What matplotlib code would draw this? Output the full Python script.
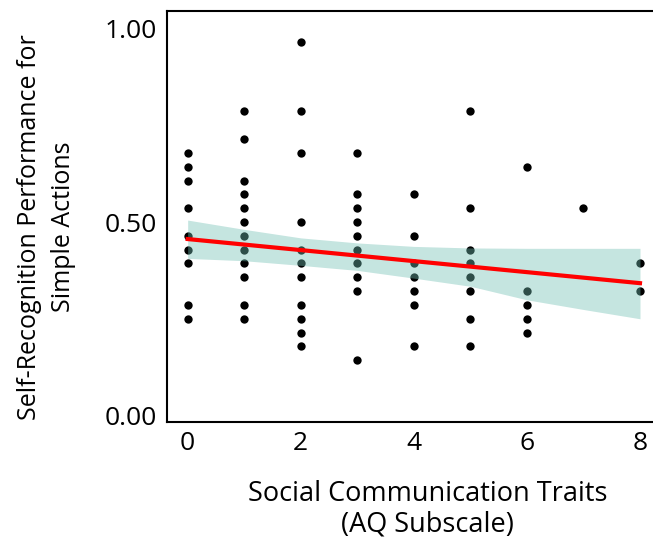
import matplotlib
matplotlib.use("Agg")
import matplotlib.pyplot as plt
import numpy as np

plt.rcParams['font.family'] = ['Open Sans', 'DejaVu Sans']

# AQ social communication subscale score and number correct (out of 28 trials)
aq_scores = [0, 1, 2, 3, 4, 5, 6, 7, 8]
correct_counts = [
    [19, 18, 17, 15, 13, 12, 11, 8, 7],
    [22, 20, 17, 16, 15, 14, 13, 12, 11, 10, 8, 7],
    [27, 22, 19, 14, 12, 11, 10, 8, 7, 6, 5],
    [19, 16, 15, 14, 13, 12, 11, 10, 9, 4],
    [16, 13, 11, 10, 9, 8, 5],
    [22, 15, 12, 11, 10, 9, 7, 5],
    [18, 9, 8, 7, 6],
    [15],
    [11, 9],
]
n_trials = 28

# model prediction and its 95% bootstrap band at each AQ score
fit_x = [0, 8]
fit_y = [0.456, 0.342]
band_upper = [0.505, 0.481, 0.459, 0.446, 0.437, 0.433, 0.432, 0.432, 0.432]
band_lower = [0.406, 0.400, 0.388, 0.375, 0.355, 0.334, 0.299, 0.274, 0.250]

x = np.concatenate([[s] * len(c) for s, c in zip(aq_scores, correct_counts)])
y = np.concatenate(correct_counts) / n_trials

fig = plt.figure(figsize=(6.53, 5.44), dpi=100)
ax = fig.add_axes([0.2557, 0.2248, 0.7443, 0.7555])

ax.scatter(x, y, s=36, color='black', linewidths=0, zorder=2)
ax.fill_between(aq_scores, band_lower, band_upper, color=(114/255, 192/255, 180/255),
                alpha=0.41, linewidth=0, zorder=3)
ax.plot(fit_x, fit_y, color='#ff0000', lw=3, zorder=4)

ax.set_xlim(-0.366, 8.23)
ax.set_ylim(-0.016, 1.046)
ax.set_xticks([0, 2, 4, 6, 8])
ax.set_yticks([0, 0.5, 1.0])
ax.set_yticklabels(['0.00', '0.50', '1.00'])
ax.tick_params(length=0, labelsize=19, pad=7)

for side in ['left', 'bottom', 'top']:
    ax.spines[side].set_linewidth(1.5)
ax.spines['right'].set_visible(False)

fig.text(0.655, 0.064, 'Social Communication Traits\n(AQ Subscale)',
         ha='center', va='center', fontsize=19.5, linespacing=1.15)
fig.text(0.071, 0.583, 'Self-Recognition Performance for\nSimple Actions',
         ha='center', va='center', rotation=90, fontsize=18, linespacing=1.45)

fig.savefig('out.png', dpi=100)
